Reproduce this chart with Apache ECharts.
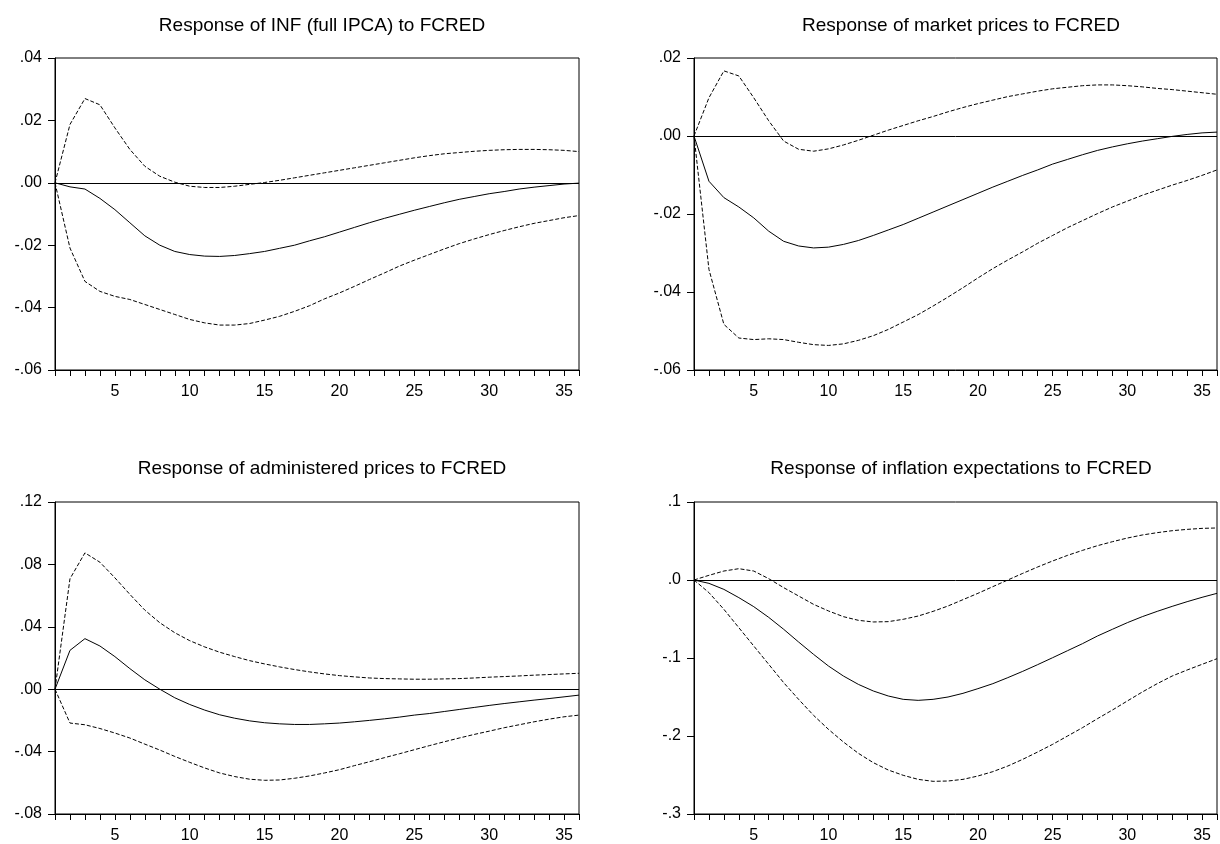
<!DOCTYPE html>
<html>
<head>
<meta charset="utf-8">
<script src="https://cdn.jsdelivr.net/npm/echarts@6/dist/echarts.min.js"></script>
<style>
  body { margin: 0; background: #fff; }
  #chart { width: 1220px; height: 844px; }
</style>
</head>
<body>
<div id="chart"></div>
<script>
// periods 1..36
const periods = [1,2,3,4,5,6,7,8,9,10,11,12,13,14,15,16,17,18,19,20,21,22,23,24,25,26,27,28,29,30,31,32,33,34,35,36];
const xTickLabels = [5, 10, 15, 20, 25, 30, 35];

const titles = [
  'Response of INF (full IPCA) to FCRED',
  'Response of market prices to FCRED',
  'Response of administered prices to FCRED',
  'Response of inflation expectations to FCRED'
];

// INF (full IPCA)
const infMid = [0,-0.0013,-0.002,-0.005,-0.0086,-0.0128,-0.017,-0.02,-0.022,-0.023,-0.0235,-0.0236,-0.0233,-0.0227,-0.022,-0.021,-0.02,-0.0186,-0.0173,-0.0158,-0.0143,-0.0128,-0.0114,-0.0101,-0.0088,-0.0076,-0.0064,-0.0053,-0.0044,-0.0035,-0.0028,-0.002,-0.0014,-0.0009,-0.0004,-0.0001];
const infUp = [0,0.0187,0.027,0.025,0.0176,0.0107,0.0053,0.0021,0.0002,-0.0011,-0.0015,-0.0015,-0.0011,-0.0005,0.0001,0.0008,0.0016,0.0024,0.0032,0.004,0.0048,0.0056,0.0064,0.0072,0.008,0.0087,0.0093,0.0097,0.0101,0.0104,0.0106,0.0107,0.0107,0.0106,0.0104,0.01];
const infLow = [0,-0.0209,-0.0316,-0.0348,-0.0364,-0.0374,-0.039,-0.0406,-0.0422,-0.0438,-0.0449,-0.0456,-0.0456,-0.0451,-0.044,-0.0428,-0.0412,-0.0394,-0.0372,-0.0353,-0.0332,-0.031,-0.0289,-0.0267,-0.0248,-0.023,-0.0212,-0.0195,-0.018,-0.0166,-0.0153,-0.0141,-0.013,-0.0121,-0.0112,-0.0105];

// market prices
const mktMid = [0,-0.0116,-0.0158,-0.0182,-0.021,-0.0244,-0.027,-0.0282,-0.0287,-0.0285,-0.0278,-0.0268,-0.0255,-0.0241,-0.0227,-0.0211,-0.0195,-0.0179,-0.0163,-0.0147,-0.0131,-0.0116,-0.0101,-0.0087,-0.0072,-0.006,-0.0048,-0.0037,-0.0028,-0.002,-0.0013,-0.0007,-0.0001,0.0004,0.0008,0.001];
const mktUp = [0,0.0098,0.0167,0.0154,0.0098,0.0039,-0.0013,-0.0034,-0.0039,-0.0033,-0.0023,-0.0011,0.0002,0.0015,0.0027,0.0039,0.005,0.0062,0.0073,0.0083,0.0092,0.0101,0.0108,0.0115,0.0121,0.0125,0.0129,0.0131,0.0131,0.0129,0.0126,0.0122,0.0119,0.0115,0.0111,0.0107];
const mktLow = [0,-0.0342,-0.0483,-0.0518,-0.0522,-0.052,-0.0522,-0.0529,-0.0535,-0.0537,-0.0533,-0.0524,-0.0512,-0.0496,-0.0477,-0.0458,-0.0436,-0.0413,-0.0389,-0.0364,-0.034,-0.0318,-0.0297,-0.0275,-0.0255,-0.0235,-0.0217,-0.0199,-0.0182,-0.0167,-0.0152,-0.0139,-0.0126,-0.0114,-0.0101,-0.0087];

// administered prices
const admMid = [0,0.0249,0.0324,0.0277,0.0209,0.0132,0.006,0,-0.0055,-0.0098,-0.0134,-0.0164,-0.0186,-0.0203,-0.0215,-0.0222,-0.0226,-0.0226,-0.0222,-0.0217,-0.0209,-0.02,-0.019,-0.0179,-0.0166,-0.0156,-0.0143,-0.013,-0.0117,-0.0104,-0.0092,-0.0081,-0.007,-0.006,-0.0049,-0.0038];
const admUp = [0,0.0708,0.0874,0.0814,0.0714,0.0608,0.0507,0.0426,0.0362,0.0311,0.0271,0.0237,0.0209,0.0183,0.0162,0.0143,0.0126,0.0111,0.0098,0.0087,0.0079,0.0072,0.0068,0.0066,0.0064,0.0064,0.0066,0.0068,0.0072,0.0077,0.0081,0.0085,0.009,0.0094,0.0098,0.0102];
const admLow = [0,-0.0217,-0.0228,-0.0252,-0.0281,-0.0313,-0.0352,-0.039,-0.0431,-0.0469,-0.0505,-0.0537,-0.056,-0.0577,-0.0584,-0.0582,-0.0571,-0.0556,-0.0537,-0.0516,-0.049,-0.0465,-0.0439,-0.0414,-0.0388,-0.0362,-0.0337,-0.0313,-0.029,-0.0269,-0.0247,-0.0228,-0.0209,-0.0192,-0.0177,-0.0166];

// inflation expectations
const expMid = [0,-0.0043,-0.012,-0.0226,-0.0342,-0.0479,-0.0632,-0.0795,-0.0953,-0.1103,-0.1231,-0.1338,-0.1423,-0.1487,-0.153,-0.1543,-0.153,-0.15,-0.1453,-0.1393,-0.1329,-0.1252,-0.1171,-0.1085,-0.0996,-0.0906,-0.0816,-0.0718,-0.0632,-0.0547,-0.047,-0.0402,-0.0338,-0.0278,-0.0222,-0.0171];
const expUp = [0,0.006,0.0115,0.0145,0.0115,0.0017,-0.0098,-0.0205,-0.0312,-0.0397,-0.047,-0.0517,-0.0538,-0.0534,-0.0504,-0.0462,-0.0402,-0.0333,-0.0252,-0.0171,-0.0085,0,0.0085,0.0167,0.0244,0.0316,0.038,0.044,0.0491,0.0538,0.0577,0.0607,0.0632,0.0649,0.0662,0.0667];
const expLow = [0,-0.0162,-0.0376,-0.0611,-0.0846,-0.1081,-0.1316,-0.153,-0.1735,-0.1915,-0.2077,-0.2222,-0.2342,-0.2436,-0.2504,-0.2556,-0.2581,-0.2577,-0.2556,-0.2513,-0.2457,-0.2385,-0.2299,-0.2205,-0.2107,-0.2,-0.1893,-0.1778,-0.1667,-0.1551,-0.1436,-0.1329,-0.1231,-0.1154,-0.1081,-0.1009];

// y scales: [min, max, interval, decimals]
const yScales = [
  [-0.06, 0.04, 0.02, 2],
  [-0.06, 0.02, 0.02, 2],
  [-0.08, 0.12, 0.04, 2],
  [-0.3, 0.1, 0.1, 1]
];

const panels = [
  [infMid, infUp, infLow],
  [mktMid, mktUp, mktLow],
  [admMid, admUp, admLow],
  [expMid, expUp, expLow]
];

const grids = [
  { left: 55, top: 58, width: 524, height: 312 },
  { left: 694, top: 58, width: 524, height: 312 },
  { left: 55, top: 502, width: 524, height: 313 },
  { left: 694, top: 502, width: 524, height: 313 }
];

const font = '"Liberation Sans", Arial, Helvetica, sans-serif';

function fmtY(v, d) {
  if (Math.abs(v) < 1e-9) v = 0;
  return v.toFixed(d).replace('0.', '.');
}

function pairs(arr) {
  return periods.map((p, i) => [p, arr[i]]);
}

let chart = echarts.init(document.getElementById('chart'));

let series = [];
panels.forEach((p, i) => {
  series.push({
    type: 'line', xAxisIndex: i, yAxisIndex: i, data: pairs(p[0]),
    symbol: 'none', silent: true,
    lineStyle: { color: '#000', width: 1 },
    markLine: {
      silent: true, symbol: 'none', label: { show: false },
      lineStyle: { color: '#000', width: 1, type: 'solid' },
      data: [{ yAxis: 0 }]
    }
  });
  [p[1], p[2]].forEach(b => {
    series.push({
      type: 'line', xAxisIndex: i, yAxisIndex: i, data: pairs(b),
      symbol: 'none', silent: true,
      lineStyle: { color: '#000', width: 1, type: [4, 2] }
    });
  });
});

let option = {
  animation: false,
  backgroundColor: '#fff',
  title: grids.map((g, i) => ({
    text: titles[i],
    left: g.left + g.width / 2,
    top: i < 2 ? 11 : 454,
    textAlign: 'center',
    textStyle: { fontFamily: font, fontSize: 19, fontWeight: 'normal', color: '#000' }
  })),
  grid: grids.map(g => Object.assign({ show: true, borderColor: '#000', borderWidth: 1 }, g)),
  xAxis: grids.map((g, i) => ({
    type: 'value', gridIndex: i, min: 1, max: 36, interval: 1,
    axisLine: { onZero: false, lineStyle: { color: '#000' } },
    axisTick: { length: 6, lineStyle: { color: '#000' } },
    splitLine: { show: false },
    axisLabel: {
      margin: 14, color: '#000', fontFamily: font, fontSize: 16,
      formatter: v => xTickLabels.indexOf(v) >= 0 ? String(v) : ''
    }
  })),
  yAxis: yScales.map((s, i) => ({
    type: 'value', gridIndex: i, min: s[0], max: s[1], interval: s[2],
    axisLine: { show: true, onZero: false, lineStyle: { color: '#000' } },
    axisTick: { show: true, length: 7, lineStyle: { color: '#000' } },
    splitLine: { show: false },
    axisLabel: {
      margin: 13, color: '#000', fontFamily: font, fontSize: 16,
      formatter: v => fmtY(v, s[3])
    }
  })),
  series: series
};

chart.setOption(option);
</script>
</body>
</html>
